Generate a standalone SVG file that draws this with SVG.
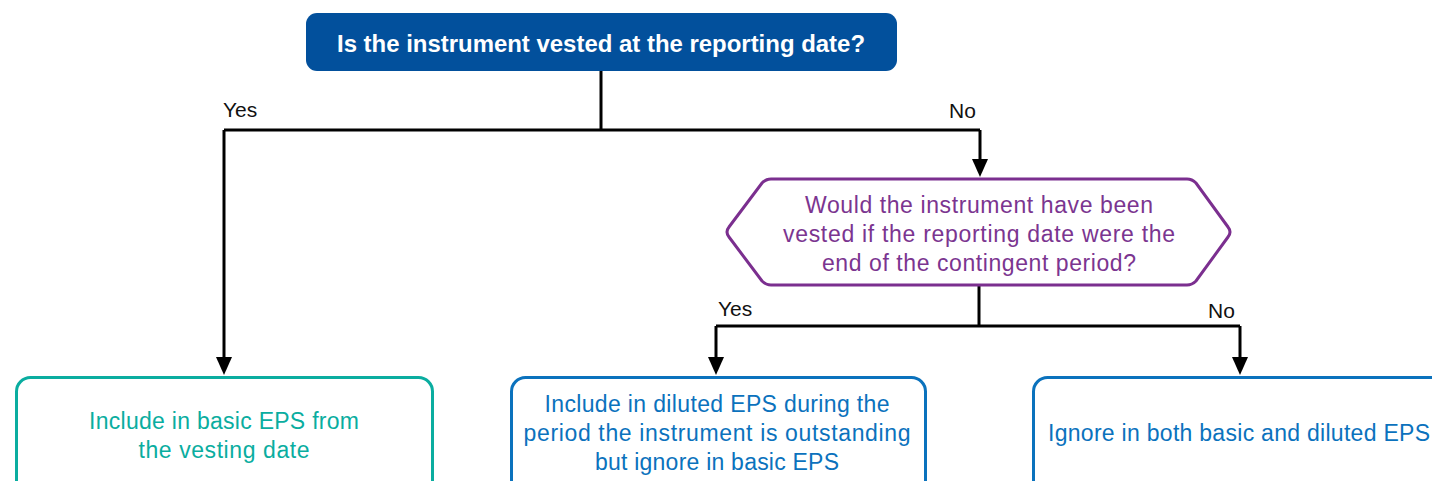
<svg xmlns="http://www.w3.org/2000/svg" width="1432" height="481" viewBox="0 0 1432 481">
<style>
.lbl{font-family:"Liberation Sans",Arial,sans-serif;font-size:21px;fill:#111}
.t{font-family:"Liberation Sans",Arial,sans-serif;font-size:23px;text-anchor:middle}
.conn{fill:none;stroke:#000;stroke-width:3}
</style>
<g id="connectors">
<path class="conn" d="M601,71 V130"/>
<path class="conn" d="M224,130 H980"/>
<path class="conn" d="M224,130 V357" />
<path d="M216,357 L232,357 L224,375 Z" fill="#000"/>
<path class="conn" d="M980,130 V159"/>
<path d="M972,159 L988,159 L980,177 Z" fill="#000"/>
<path class="conn" d="M979,286 V326"/>
<path class="conn" d="M716,326 H1240"/>
<path class="conn" d="M716,326 V357"/>
<path d="M708,357 L724,357 L716,375 Z" fill="#000"/>
<path class="conn" d="M1240,326 V357"/>
<path d="M1232,357 L1248,357 L1240,375 Z" fill="#000"/>
<text class="lbl" x="223" y="117">Yes</text>
<text class="lbl" x="949" y="118">No</text>
<text class="lbl" x="718" y="316">Yes</text>
<text class="lbl" x="1208" y="318">No</text>
</g>
<g id="q1">
<rect x="306" y="13" width="591" height="58" rx="11" fill="#02509c"/>
<text class="t" x="601" y="52" fill="#fff" font-weight="bold" font-size="24" textLength="528" lengthAdjust="spacingAndGlyphs">Is the instrument vested at the reporting date?</text>
</g>
<g id="q2">
<path d="M771,179 H1187 Q1192,179 1196,183 L1228,227 Q1232,232 1228,237 L1196,281 Q1192,285 1187,285 H771 Q766,285 762,281 L729,237 Q725,232 729,227 L762,183 Q766,179 771,179 Z" fill="#fff" stroke="#7b2f8f" stroke-width="3"/>
<g fill="#7b3590">
<text class="t" x="979" y="213" textLength="348">Would the instrument have been</text>
<text class="t" x="979" y="242" textLength="392">vested if the reporting date were the</text>
<text class="t" x="979" y="271" textLength="314">end of the contingent period?</text>
</g>
</g>
<g id="a1">
<rect x="16.5" y="377.5" width="416" height="120" rx="14" fill="#fff" stroke="#0aada0" stroke-width="3"/>
<g fill="#0aada0">
<text class="t" x="224" y="429" textLength="270">Include in basic EPS from</text>
<text class="t" x="224" y="458" textLength="171">the vesting date</text>
</g>
</g>
<g id="a2">
<rect x="511.5" y="377.5" width="414" height="120" rx="14" fill="#fff" stroke="#0b72bd" stroke-width="3"/>
<g fill="#0b72bd">
<text class="t" x="717" y="412" textLength="345">Include in diluted EPS during the</text>
<text class="t" x="717" y="441" textLength="387">period the instrument is outstanding</text>
<text class="t" x="717" y="470" textLength="244">but ignore in basic EPS</text>
</g>
</g>
<g id="a3">
<rect x="1033.5" y="377.5" width="430" height="120" rx="14" fill="#fff" stroke="#0b72bd" stroke-width="3"/>
<text x="1048" y="441" fill="#0b72bd" font-family="Liberation Sans, Arial, sans-serif" font-size="23" textLength="382">Ignore in both basic and diluted EPS</text>
</g>
</svg>
